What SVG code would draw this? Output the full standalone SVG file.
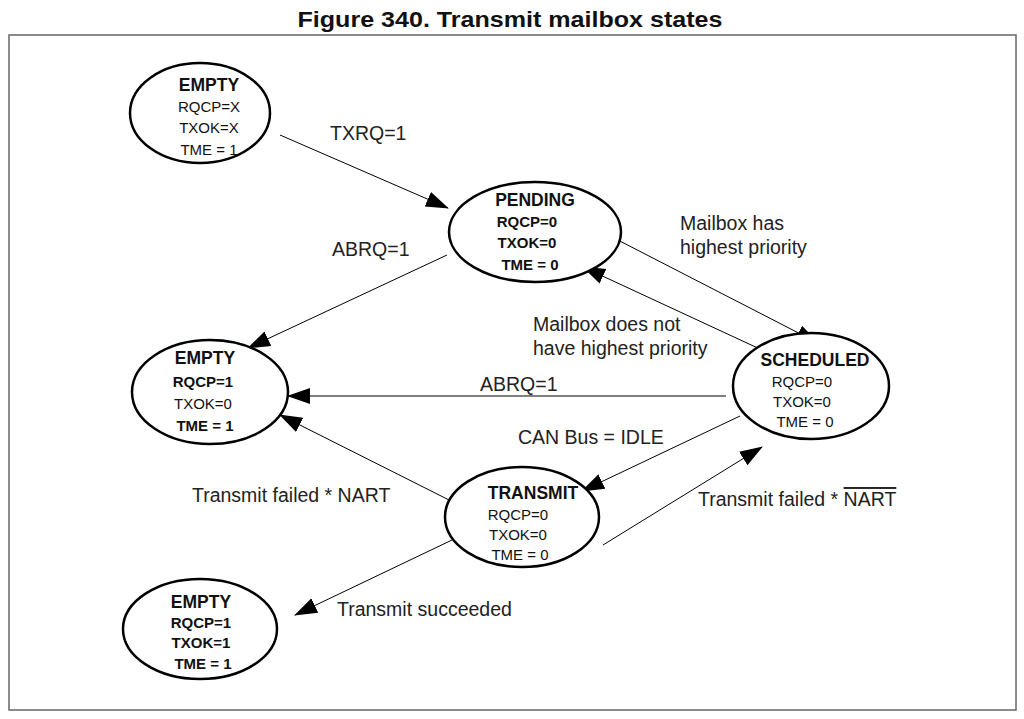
<svg xmlns="http://www.w3.org/2000/svg" width="1024" height="719" viewBox="0 0 1024 719">
<defs>
<marker id="ah" markerWidth="24" markerHeight="18" refX="22" refY="9" orient="auto" markerUnits="userSpaceOnUse">
<path d="M0,1 L23,9 L0,17 Z" fill="#000"/>
</marker>
<style>
.st{fill:#fff;stroke:#000;stroke-width:2.5}
.t{font-family:"Liberation Sans",Arial,sans-serif;font-size:15px;fill:#111;text-anchor:middle}
.b{font-weight:bold}
.h{font-family:"Liberation Sans",Arial,sans-serif;font-size:17.5px;font-weight:bold;fill:#111;text-anchor:middle}
.l{font-family:"Liberation Sans",Arial,sans-serif;font-size:19.5px;fill:#222}
.c{stroke:#000;stroke-width:1;fill:none;marker-end:url(#ah)}
</style>
</defs>
<rect width="1024" height="719" fill="#fff"/>
<text x="510" y="27" font-family="Liberation Sans,Arial,sans-serif" font-size="22" font-weight="bold" text-anchor="middle" textLength="425" lengthAdjust="spacingAndGlyphs" fill="#111">Figure 340. Transmit mailbox states</text>
<rect x="9" y="35" width="1007" height="675" fill="none" stroke="#666" stroke-width="1.5"/>

<g id="connectors">
<line class="c" x1="280" y1="135" x2="448" y2="208"/>
<line class="c" x1="447" y1="255" x2="248" y2="348"/>
<line class="c" x1="612" y1="237" x2="818" y2="343"/>
<line class="c" x1="762" y1="350" x2="583" y2="267"/>
<line class="c" x1="726" y1="396" x2="288" y2="396"/>
<line class="c" x1="740" y1="416" x2="582" y2="491"/>
<line class="c" x1="455" y1="503" x2="280" y2="415"/>
<line class="c" x1="603" y1="545" x2="762" y2="447"/>
<line class="c" x1="452" y1="540" x2="295" y2="615"/>
</g>

<g id="labels">
<text class="l" x="330" y="140">TXRQ=1</text>
<text class="l" x="332" y="256">ABRQ=1</text>
<text class="l" x="680" y="230">Mailbox has</text>
<text class="l" x="680" y="254">highest priority</text>
<text class="l" x="533" y="331">Mailbox does not</text>
<text class="l" x="533" y="355">have highest priority</text>
<text class="l" x="480" y="391">ABRQ=1</text>
<text class="l" x="518" y="444">CAN Bus = IDLE</text>
<text class="l" x="192" y="502">Transmit failed * NART</text>
<text class="l" x="698" y="506">Transmit failed * <tspan text-decoration="overline">NART</tspan></text>
<text class="l" x="337" y="616">Transmit succeeded</text>
</g>

<g id="empty1">
<ellipse class="st" cx="200" cy="113" rx="70" ry="50"/>
<text class="h" x="209" y="91">EMPTY</text>
<text class="t" x="209" y="112">RQCP=X</text>
<text class="t" x="209" y="133">TXOK=X</text>
<text class="t" x="209" y="155">TME = 1</text>
</g>

<g id="pending">
<ellipse class="st" cx="535" cy="232" rx="86" ry="50"/>
<text class="h" x="535" y="206">PENDING</text>
<text class="t b" x="527" y="227">RQCP=0</text>
<text class="t b" x="527" y="248">TXOK=0</text>
<text class="t b" x="530" y="270">TME = 0</text>
</g>

<g id="empty2">
<ellipse class="st" cx="210" cy="392" rx="78" ry="52"/>
<text class="h" x="205" y="364">EMPTY</text>
<text class="t b" x="203" y="387">RQCP=1</text>
<text class="t" x="203" y="409">TXOK=0</text>
<text class="t b" x="205" y="431">TME = 1</text>
</g>

<g id="scheduled">
<ellipse class="st" cx="811" cy="386" rx="78" ry="53"/>
<text class="h" x="815" y="366">SCHEDULED</text>
<text class="t" x="802" y="387">RQCP=0</text>
<text class="t" x="802" y="407">TXOK=0</text>
<text class="t" x="805" y="427">TME = 0</text>
</g>

<g id="transmit">
<ellipse class="st" cx="522" cy="517" rx="77" ry="50"/>
<text class="h" x="533" y="499">TRANSMIT</text>
<text class="t" x="518" y="520">RQCP=0</text>
<text class="t" x="518" y="540">TXOK=0</text>
<text class="t" x="520" y="560">TME = 0</text>
</g>

<g id="empty3">
<ellipse class="st" cx="200" cy="629" rx="77" ry="50"/>
<text class="h" x="201" y="608">EMPTY</text>
<text class="t b" x="201" y="628">RQCP=1</text>
<text class="t b" x="201" y="648">TXOK=1</text>
<text class="t b" x="203" y="669">TME = 1</text>
</g>
</svg>
